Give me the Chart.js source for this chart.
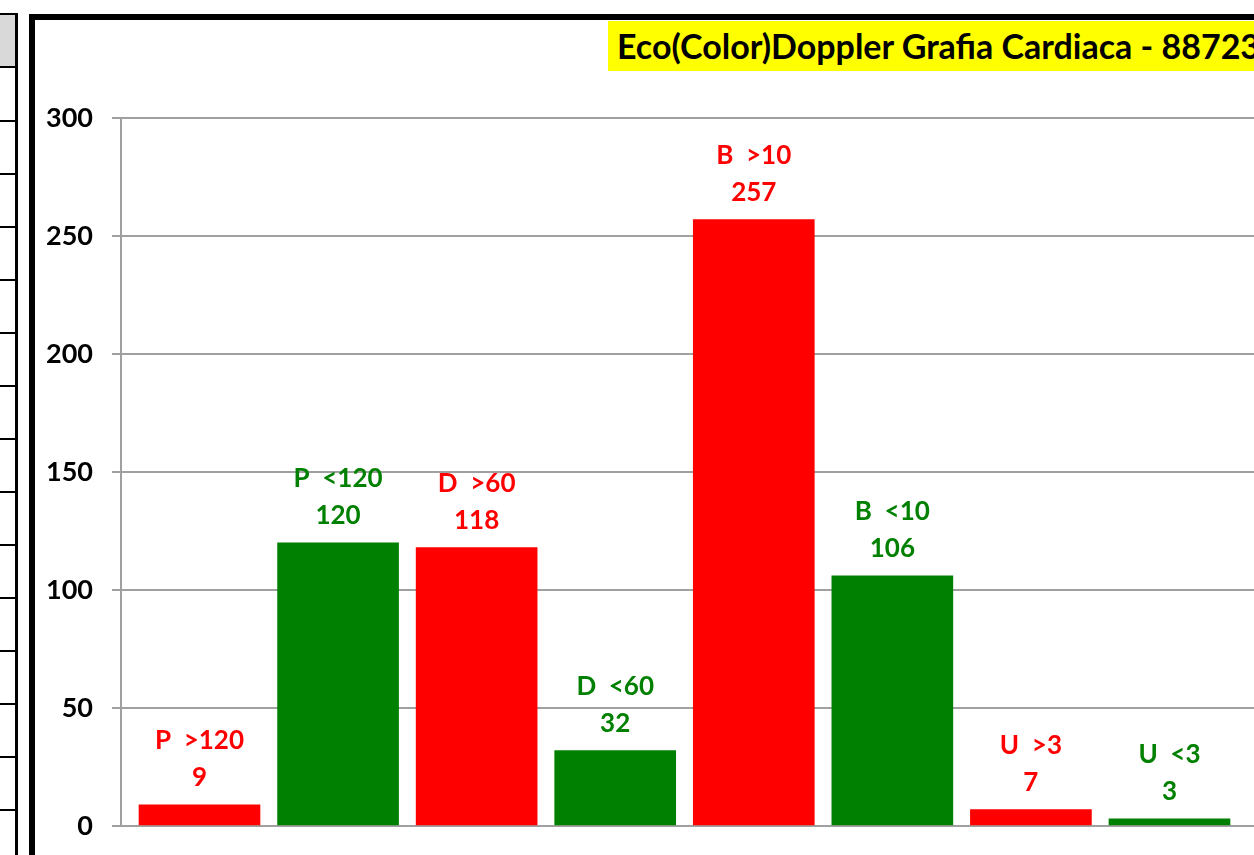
<!DOCTYPE html>
<html>
<head>
<meta charset="utf-8">
<script src="https://cdn.jsdelivr.net/npm/chart.js@4.4.1/dist/chart.umd.min.js"></script>
<style>
  html, body { margin:0; padding:0; width:1254px; height:855px; overflow:hidden; background:#fff; }
  #frame { position:absolute; left:29px; top:14px; width:1400px; height:839px; border-left:6px solid #000; border-top:6px solid #000; border-bottom:1px solid #444; box-sizing:content-box; }
  #title { position:absolute; left:608px; top:21px; width:800px; height:50px; background:#ffff00; font-family:Lato, "Open Sans", sans-serif; font-weight:bold; font-size:34px; line-height:50px; padding-left:9px; white-space:nowrap; color:#000; }
  #strip { position:absolute; left:0; top:14px; width:15px; height:52px; background:#d9d9d9; }
  #vline { position:absolute; left:15px; top:13px; width:3px; height:842px; background:#000; }
  .hl { position:absolute; left:0; width:16px; height:2px; background:#000; }
  #wrap { position:absolute; left:0; top:0; width:1400px; height:855px; }
  canvas { display:block; }
</style>
</head>
<body>
<div id="strip"></div>
<div id="vline"></div>
<div id="frame"></div>
<div id="wrap"><canvas id="c" width="1400" height="855"></canvas></div>
<div id="title">Eco(Color)Doppler Grafia Cardiaca - 88723</div>
<script>
const categories = ["P  >120", "P  <120", "D  >60", "D  <60", "B  >10", "B  <10", "U  >3", "U  <3"];
const values = [9, 120, 118, 32, 257, 106, 7, 3];
const barColors = ["#ff0000", "#008000", "#ff0000", "#008000", "#ff0000", "#008000", "#ff0000", "#008000"];
const yTicks = [0, 50, 100, 150, 200, 250, 300];

// left strip separator lines (decoration)
[13, 66, 120, 173, 226, 279, 332, 385, 438, 491, 544, 597, 650, 703, 756, 809].forEach(function (y) {
  const d = document.createElement('div');
  d.className = 'hl'; d.style.top = y + 'px';
  document.body.appendChild(d);
});

const labelPlugin = {
  id: 'barLabels',
  afterDatasetsDraw(chart) {
    const ctx = chart.ctx;
    const meta = chart.getDatasetMeta(0);
    ctx.save();
    ctx.font = 'bold 26px Lato, "Open Sans", sans-serif';
    ctx.textAlign = 'center';
    ctx.textBaseline = 'middle';
    meta.data.forEach(function (bar, i) {
      ctx.fillStyle = barColors[i];
      ctx.fillText(String(values[i]), bar.x, bar.y - 27);
      ctx.fillText(categories[i], bar.x, bar.y - 64);
    });
    ctx.restore();
  }
};

new Chart(document.getElementById('c'), {
  type: 'bar',
  data: {
    datasets: [{
      data: values.map(function (v, i) { return { x: i, y: v }; }),
      backgroundColor: barColors,
      borderWidth: 0,
      barThickness: 121
    }]
  },
  options: {
    responsive: false,
    animation: false,
    layout: { padding: { left: 0, right: 60, top: 118, bottom: 29 } },
    plugins: { legend: { display: false }, tooltip: { enabled: false }, title: { display: false } },
    scales: {
      x: {
        type: 'linear',
        display: false,
        offset: false,
        grid: { offset: false },
        min: -0.5665,
        max: 8.2306
      },
      y: {
        min: 0,
        max: 300,
        afterFit: function (s) { s.width = 121; },
        afterBuildTicks: function (s) { s.ticks = yTicks.map(function (v) { return { value: v }; }); },
        ticks: {
          font: { family: 'Lato, "Open Sans", sans-serif', weight: 'bold', size: 27, lineHeight: 0.7 },
          color: '#000',
          padding: 19
        },
        grid: { color: '#a0a0a0', lineWidth: 2, tickLength: 9, drawTicks: true },
        border: { display: true, color: '#a0a0a0', width: 2 }
      }
    }
  },
  plugins: [labelPlugin]
});
</script>
</body>
</html>
